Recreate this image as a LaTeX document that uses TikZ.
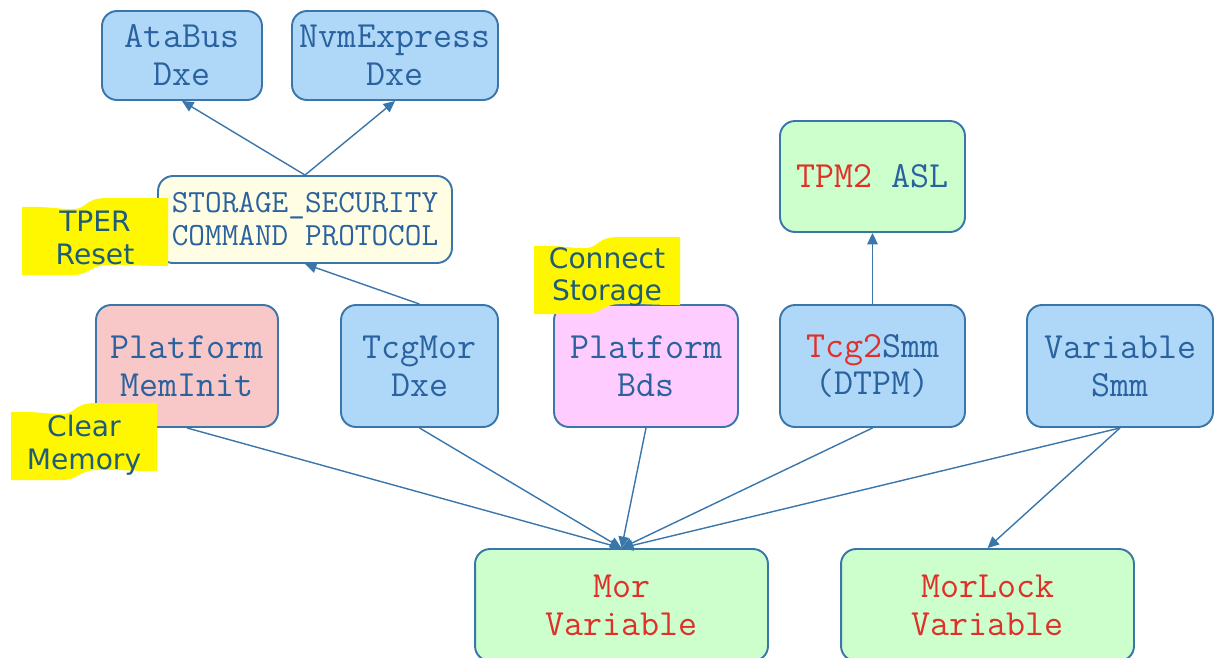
\documentclass[tikz,border=0pt]{standalone}
\usepackage{fontspec}
\newfontfamily\notefont{DejaVu Sans}
\usetikzlibrary{arrows.meta}
\definecolor{boxline}{HTML}{3A76AA}
\definecolor{boxtext}{HTML}{2A62A0}
\definecolor{redtext}{HTML}{E0302A}
\definecolor{bluefill}{HTML}{AFD8F8}
\definecolor{greenfill}{HTML}{CCFFCC}
\definecolor{creamfill}{HTML}{FFFDE3}
\definecolor{pinkfill}{HTML}{F8C8C8}
\definecolor{violetfill}{HTML}{FFCCFF}
\definecolor{flagfill}{HTML}{FFF700}
\definecolor{flagtext}{HTML}{1F5C7A}
\begin{document}
\begin{tikzpicture}[x=0.02cm, y=-0.02cm,
    module/.style={draw=boxline, line width=1.1pt, rounded corners=0.3cm, inner sep=0pt,
        align=center, text=boxtext, font={\ttfamily\fontsize{21}{21.6}\selectfont}},
    arr/.style={draw=boxline, line width=0.8pt, -{Triangle[length=6.5pt,width=6pt]}},
    note/.style={align=center, text=flagtext, inner sep=0pt,
        font={\notefont\fontsize{16}{18.6}\selectfont}}]
    \useasboundingbox (0,0) rectangle (1217,657);
    % Storage drivers (top)
    \node[module, fill=bluefill, minimum width=3.2cm, minimum height=1.78cm] (atabus) at (182,55.5) {AtaBus\\Dxe};
    \node[module, fill=bluefill, minimum width=4.12cm, minimum height=1.78cm] (nvme) at (395,55.5) {NvmExpress\\Dxe};
    \node[module, fill=creamfill, minimum width=5.88cm, minimum height=1.74cm,
        font={\ttfamily\fontsize{18.4}{18.8}\selectfont}] (storage) at (305,219.5) {STORAGE\_SECURITY\\COMMAND PROTOCOL};
    \node[module, fill=greenfill, minimum width=3.7cm, minimum height=2.22cm] (tpmasl) at (872.5,176.5) {\textcolor{redtext}{TPM2} ASL};
    % Middle row
    \node[module, fill=pinkfill, minimum width=3.64cm, minimum height=2.44cm] (meminit) at (187,366) {Platform\\MemInit};
    \node[module, fill=bluefill, minimum width=3.14cm, minimum height=2.44cm] (tcgmor) at (419.5,366) {TcgMor\\Dxe};
    \node[module, fill=violetfill, minimum width=3.68cm, minimum height=2.44cm] (bds) at (646,366) {Platform\\Bds};
    \node[module, fill=bluefill, minimum width=3.7cm, minimum height=2.44cm] (tcgsmm) at (872.5,366) {\textcolor{redtext}{Tcg2}Smm\\(DTPM)};
    \node[module, fill=bluefill, minimum width=3.72cm, minimum height=2.44cm] (varsmm) at (1120,366) {Variable\\Smm};
    % Variables (bottom)
    \node[module, fill=greenfill, text=redtext, minimum width=5.86cm, minimum height=2.24cm] (morvar) at (621.5,605) {Mor\\Variable};
    \node[module, fill=greenfill, text=redtext, minimum width=5.86cm, minimum height=2.24cm] (morlock) at (987.5,605) {MorLock\\Variable};
    % Connectors
    \draw[arr] (storage.north) -- (atabus.south);
    \draw[arr] (storage.north) -- (nvme.south);
    \draw[arr] (tcgmor.north) -- (storage.south);
    \draw[arr] (tcgsmm.north) -- (tpmasl.south);
    \foreach \src in {meminit,tcgmor,bds,tcgsmm,varsmm} {
        \draw[arr] (\src.south) -- (morvar.north);
    }
    \draw[arr] (varsmm.south) -- (morlock.north);
    % Yellow notes
    \foreach \fx/\fy in {95/237, 607/276, 84/442} {
        \fill[flagfill, shift={(\fx,\fy)}] (-73,-30) .. controls (-45,-31) and (-32,-27) .. (-20,-28)
            .. controls (-8,-29) and (-10,-39) .. (12,-39) -- (73,-39) -- (73,29)
            .. controls (40,29) and (28,27) .. (12,28) .. controls (-6,29) and (-6,38) .. (-22,38)
            -- (-73,38) -- cycle;
    }
    \node[note] (tper) at (95,238) {TPER\\Reset};
    \node[note] (connect) at (607,277) {Connect\\Storage};
    \node[note] (clear) at (84,445) {Clear\\Memory};
\end{tikzpicture}
\end{document}
